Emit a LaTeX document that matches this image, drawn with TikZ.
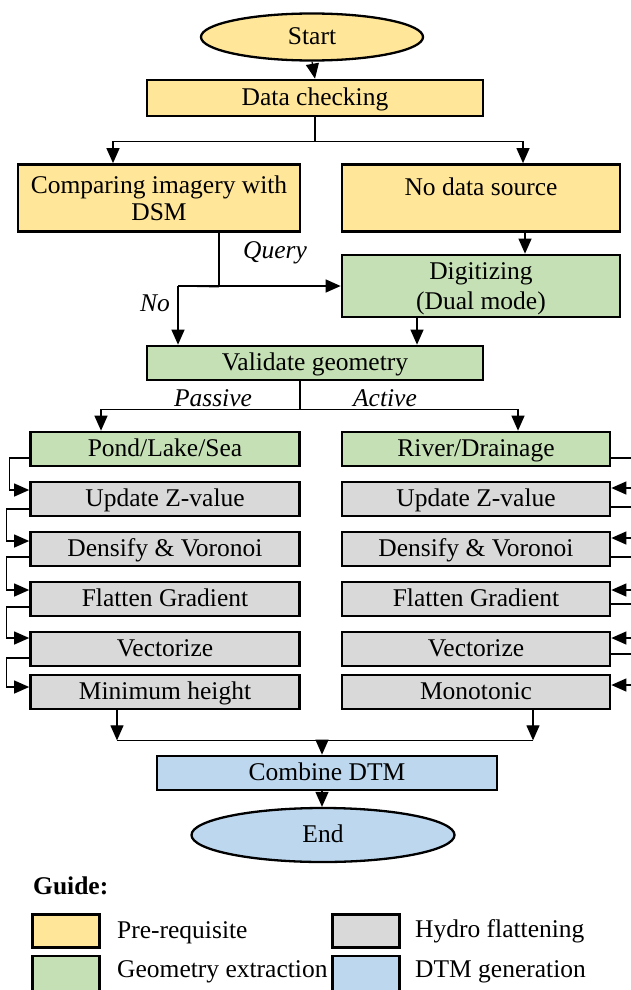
\documentclass[tikz,border=0pt]{standalone}
\usepackage{fontspec}
\setmainfont{Liberation Serif}
\usetikzlibrary{arrows.meta,shapes.geometric,calc}
\definecolor{cyel}{HTML}{FFE699}
\definecolor{cgrn}{HTML}{C5E0B4}
\definecolor{cgry}{HTML}{D9D9D9}
\definecolor{cblu}{HTML}{BDD7EE}
\begin{document}
\begin{tikzpicture}[x=1pt,y=1pt,
  every node/.style={font=\fontsize{25.5}{27}\selectfont, inner sep=0pt},
  box/.style={draw=black, line width=2.7pt, rectangle, align=center},
  one/.style={text height=19pt, text depth=4pt},
  oval/.style={draw=black, line width=2.3pt, ellipse},
  conn/.style={line width=1.2pt},
  arr/.style={line width=1.2pt, -{Triangle[length=15pt,width=13pt]}},
  lab/.style={font=\fontsize{25.5}{27}\selectfont\itshape},
  lgbox/.style={draw=black, line width=2.7pt, minimum width=67pt, minimum height=33pt}]
\useasboundingbox (0,0) rectangle (631,-990);
\clip (0,0) rectangle (631,-990);
\fill[white] (0,0) rectangle (631,-990);
% nodes
\node[oval, one, fill=cyel, minimum width=222pt, minimum height=47pt] (start) at (312,-37) {Start};
\node[box, one, fill=cyel, minimum width=336pt, minimum height=36pt] (check) at (315,-98) {Data checking};
\node[box, fill=cyel, minimum width=282pt, minimum height=67pt] (comp) at (159,-198) {Comparing imagery with\\DSM};
\node[box, fill=cyel, minimum width=278pt, minimum height=67pt] (nods) at (481,-198) {No data source\\[-13pt]\strut};
\node[box, fill=cgrn, minimum width=278pt, minimum height=62pt] (dig) at (481,-286) {\rule{0pt}{22pt}Digitizing\\[3pt](Dual mode)};
\node[box, one, fill=cgrn, minimum width=336pt, minimum height=34pt] (val) at (315,-363) {Validate geometry};
\node[box, one, fill=cgrn, minimum width=269pt, minimum height=34pt] (pond) at (165,-449) {Pond/Lake/Sea};
\node[box, one, fill=cgrn, minimum width=268pt, minimum height=34pt] (river) at (476,-449) {River/Drainage};
\foreach \n/\y/\t in {1/499/Update Z-value,2/549/Densify \& Voronoi,3/599/Flatten Gradient,4/649/Vectorize,5/692/Minimum height}{
  \node[box, one, fill=cgry, minimum width=269pt, minimum height=34pt] (L\n) at (165,-\y) {\t};}
\foreach \n/\y/\t in {1/499/Update Z-value,2/549/Densify \& Voronoi,3/599/Flatten Gradient,4/649/Vectorize,5/692/Monotonic}{
  \node[box, one, fill=cgry, minimum width=268pt, minimum height=34pt] (R\n) at (476,-\y) {\t};}
\node[box, one, fill=cblu, minimum width=340pt, minimum height=34pt] (comb) at (327,-773) {Combine DTM};
\node[oval, one, fill=cblu, minimum width=263pt, minimum height=54pt] (endn) at (323,-835) {End};
% labels
\node[lab] (lq) at (275,-253) {Query};
\node[lab] (lno) at (155,-303) {No};
\node[lab] (lpa) at (213,-398) {Passive};
\node[lab] (lac) at (385,-398) {Active};
% connectors
\draw[arr] (start.south) -- (check.north);
\draw[conn] (check.south) -- ++(0,-24) coordinate (b1);
\draw[arr] (b1) -| ([xshift=-46pt]comp.north);
\draw[arr] (b1) -| ([xshift=42pt]nods.north);
\draw[conn] ([xshift=60pt]comp.south) -- ++(0,-54) coordinate (q1);
\coordinate (j1) at (178,-286);
\draw[conn] (j1) -- (q1);
\draw[arr] (j1) -- (j1 -| dig.west);
\draw[arr] (j1) -- (j1 |- val.north);
\draw[arr] ([xshift=44pt]nods.south) -- ([xshift=44pt]dig.north);
\coordinate (ds) at ([xshift=-64pt]dig.south);
\draw[arr] (ds) -- (ds |- val.north);
\draw[conn] ([xshift=-15pt]val.south) -- ++(0,-28) coordinate (b2);
\draw[arr] (b2) -| ([xshift=-64pt]pond.north);
\draw[arr] (b2) -| ([xshift=42pt]river.north);
% left chain
\draw[arr] ([yshift=-9pt]pond.west) -- ++(-20,0) |- ([yshift=9pt]L1.west);
\draw[arr] ([yshift=-10pt]L1.west) -- ++(-23,0) |- ([yshift=8pt]L2.west);
\draw[arr] ([yshift=-8pt]L2.west) -- ++(-23,0) |- ([yshift=9pt]L3.west);
\draw[arr] ([yshift=-8pt]L3.west) -- ++(-23,0) |- ([yshift=11pt]L4.west);
\draw[arr] ([yshift=-9pt]L4.west) -- ++(-23,0) |- ([yshift=5pt]L5.west);
% right chain (cut at picture edge)
\draw[conn] ([yshift=-9pt]river.east) -- ++(30,0);
\foreach \n/\a/\e in {1/11/-8,2/11/-8,3/9/-5,4/11/-5}{
  \draw[arr] ([xshift=30pt,yshift=\a pt]R\n.east) -- ([yshift=\a pt]R\n.east);
  \draw[conn] ([yshift=\e pt]R\n.east) -- ++(30,0);}
\draw[arr] ([xshift=30pt,yshift=7pt]R5.east) -- ([yshift=7pt]R5.east);
% bottom
\coordinate (l5s) at ([xshift=-48pt]L5.south);
\coordinate (r5s) at ([xshift=57pt]R5.south);
\coordinate (cn) at ([xshift=-5pt]comb.north);
\coordinate (cs) at ([xshift=-5pt]comb.south);
\coordinate (b3) at ([yshift=-30pt]l5s);
\draw[arr] (l5s) -- (b3);
\draw[arr] (r5s) -- (r5s |- b3);
\draw[conn] (b3) -- (b3 -| r5s);
\draw[arr] (b3 -| cn) -- (cn);
\draw[arr] (cs) -- (cs |- endn.north);
% legend
\node[font=\fontsize{25.5}{27}\selectfont\bfseries, anchor=west] (guide) at (33,-886) {Guide:};
\node[lgbox, fill=cyel] (ly) at (66,-931) {};
\node[lgbox, fill=cgrn, minimum height=40pt] (lg) at (66,-976) {};
\node[lgbox, fill=cgry] (lgy) at (366,-931) {};
\node[lgbox, fill=cblu, minimum height=40pt] (lb) at (366,-976) {};
\node[anchor=west] (tly) at (117,-933) {Pre-requisite};
\node[anchor=west] (tlg) at (117,-972) {Geometry extraction};
\node[anchor=west] (tlgy) at (415,-931) {Hydro flattening};
\node[anchor=west] (tlb) at (415,-972) {DTM generation};
\end{tikzpicture}
\end{document}
